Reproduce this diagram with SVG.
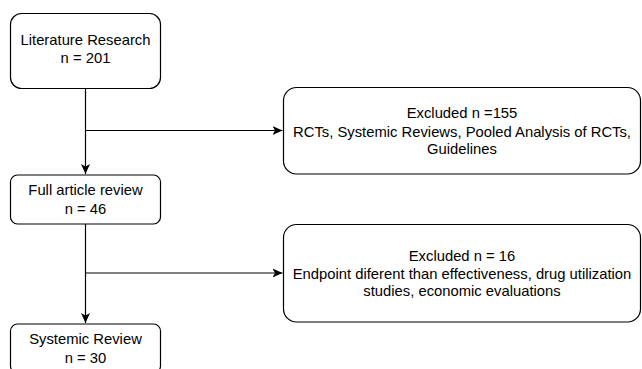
<svg xmlns="http://www.w3.org/2000/svg" width="642" height="369" viewBox="0 0 642 369">
<defs>
<style>
.box{fill:#fff;stroke:#000;stroke-width:1.2}
.t{font-family:"Liberation Sans",Arial,Helvetica,sans-serif;font-size:14.8px;fill:#000;text-anchor:middle}
.c{fill:none;stroke:#000;stroke-width:1.2}
</style>
<marker id="ah" viewBox="0 0 10 10" refX="10" refY="5" markerWidth="10" markerHeight="10" markerUnits="userSpaceOnUse" orient="auto">
<path d="M0,0.5 L10,5 L0,9.5 L2.5,5 Z" fill="#000"/>
</marker>
</defs>
<rect width="642" height="369" fill="#fff"/>
<g id="connectors">
<path class="c" d="M85.5,88 V174" marker-end="url(#ah)"/>
<path class="c" d="M85.5,130.5 H282.5" marker-end="url(#ah)"/>
<path class="c" d="M85.5,224 V323" marker-end="url(#ah)"/>
<path class="c" d="M85.5,273 H282.5" marker-end="url(#ah)"/>
</g>
<g id="literature">
<rect class="box" x="10.5" y="13.5" width="150" height="75" rx="11"/>
<text class="t" x="85.5" y="45">Literature Research</text>
<text class="t" x="85.5" y="62.5">n = 201</text>
</g>
<g id="fullreview">
<rect class="box" x="10.5" y="175" width="150" height="49" rx="7"/>
<text class="t" x="85.5" y="195">Full article review</text>
<text class="t" x="85.5" y="214">n = 46</text>
</g>
<g id="systemic">
<rect class="box" x="10.5" y="324" width="150" height="49" rx="7"/>
<text class="t" x="85.5" y="344">Systemic Review</text>
<text class="t" x="85.5" y="363">n = 30</text>
</g>
<g id="excluded1">
<rect class="box" x="283.5" y="87.5" width="357" height="86.5" rx="13"/>
<text class="t" x="462" y="118">Excluded n =155</text>
<text class="t" x="462" y="136.5">RCTs, Systemic Reviews, Pooled Analysis of RCTs,</text>
<text class="t" x="462" y="154">Guidelines</text>
</g>
<g id="excluded2">
<rect class="box" x="283.5" y="224.5" width="357" height="97.5" rx="13"/>
<text class="t" x="462" y="261">Excluded n = 16</text>
<text class="t" x="462" y="278.5">Endpoint diferent than effectiveness, drug utilization</text>
<text class="t" x="462" y="296">studies, economic evaluations</text>
</g>
</svg>
